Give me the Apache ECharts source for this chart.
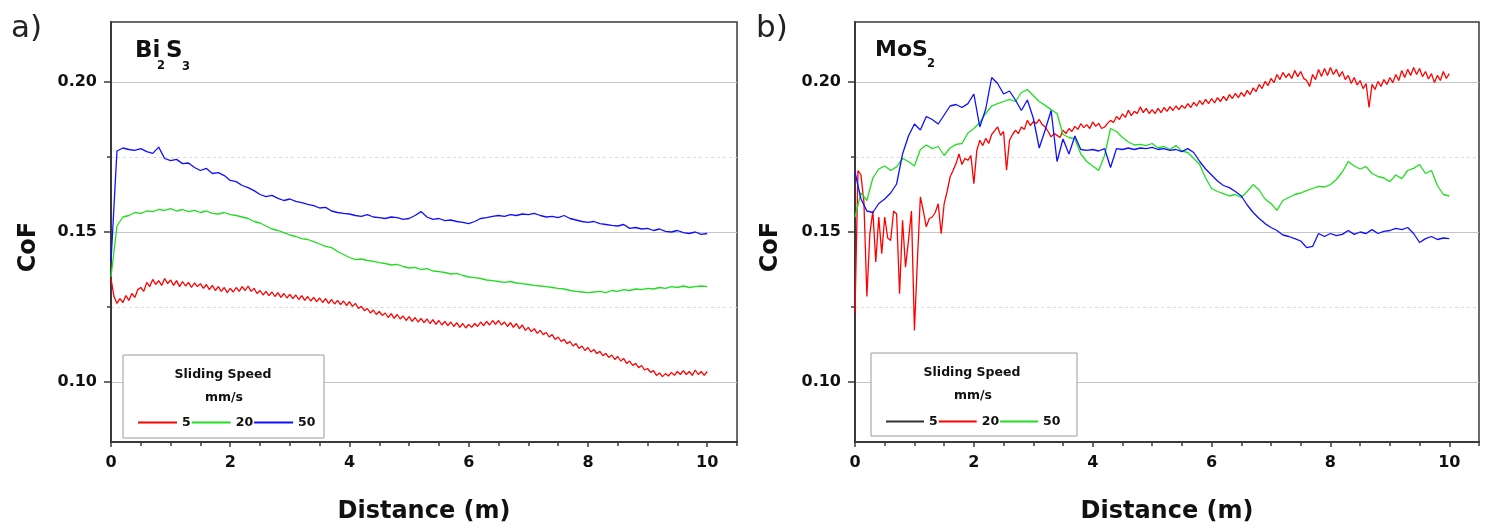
<!DOCTYPE html>
<html><head><meta charset="utf-8">
<script src="https://cdn.jsdelivr.net/npm/echarts@6/dist/echarts.min.js"></script>
<style>html,body{margin:0;padding:0;background:#fff}#c{width:1491px;height:529px}</style>
</head><body><div id="c"></div>
<script>
const F = '"DejaVu Sans", sans-serif';
// distance sampling grids (m)
const dist01 = Array.from({length: 101}, (_, i) => +(i / 10).toFixed(2));
const dist005 = Array.from({length: 201}, (_, i) => +(i / 20).toFixed(2));

const xMajorTicks = [0, 2, 4, 6, 8, 10];
const xMinorTicks = [0.5, 1, 1.5, 2.5, 3, 3.5, 4.5, 5, 5.5, 6.5, 7, 7.5, 8.5, 9, 9.5, 10.5];
const yMajorTicks = [0.10, 0.15, 0.20];
const yMinorTicks = [0.125, 0.175];

// Panel a) Bi2S3 : 5 mm/s (red, step 0.05 m)
const biRed5 = [
0.1345,0.1285,0.1262,0.1278,0.1265,0.1288,0.1272,0.1295,0.1282,0.1308,
0.1315,0.1302,0.1332,0.1318,0.1342,0.1325,0.1338,0.1322,0.1345,0.1328,
0.1340,0.1322,0.1338,0.1318,0.1335,0.1320,0.1332,0.1315,0.1330,0.1318,
0.1328,0.1312,0.1325,0.1308,0.1322,0.1305,0.1318,0.1302,0.1315,0.1298,
0.1312,0.1300,0.1315,0.1302,0.1318,0.1305,0.1320,0.1302,0.1312,0.1295,
0.1305,0.1290,0.1302,0.1288,0.1300,0.1285,0.1298,0.1282,0.1295,0.1280,
0.1292,0.1278,0.1290,0.1275,0.1288,0.1272,0.1285,0.1270,0.1282,0.1268,
0.1280,0.1265,0.1278,0.1262,0.1275,0.1260,0.1272,0.1258,0.1270,0.1255,
0.1268,0.1252,0.1262,0.1245,0.1252,0.1238,0.1245,0.1230,0.1240,0.1225,
0.1235,0.1222,0.1230,0.1215,0.1228,0.1212,0.1225,0.1210,0.1220,0.1205,
0.1218,0.1202,0.1215,0.1200,0.1212,0.1198,0.1210,0.1195,0.1208,0.1192,
0.1205,0.1190,0.1202,0.1188,0.1200,0.1185,0.1198,0.1182,0.1195,0.1180,
0.1192,0.1182,0.1195,0.1185,0.1200,0.1188,0.1202,0.1190,0.1205,0.1192,
0.1205,0.1190,0.1200,0.1185,0.1198,0.1182,0.1195,0.1178,0.1190,0.1172,
0.1182,0.1168,0.1178,0.1162,0.1172,0.1158,0.1165,0.1150,0.1158,0.1142,
0.1150,0.1135,0.1142,0.1128,0.1135,0.1120,0.1128,0.1112,0.1120,0.1105,
0.1115,0.1100,0.1108,0.1095,0.1102,0.1088,0.1095,0.1082,0.1090,0.1075,
0.1085,0.1070,0.1078,0.1062,0.1070,0.1055,0.1062,0.1048,0.1055,0.1040,
0.1045,0.1032,0.1038,0.1022,0.1030,0.1018,0.1028,0.1020,0.1032,0.1022,
0.1035,0.1025,0.1038,0.1025,0.1035,0.1022,0.1040,0.1025,0.1035,0.1022,
0.1035];
// 20 mm/s (green, step 0.1 m)
const biGreen20 = [
0.1350,0.1520,0.1550,0.1555,0.1565,0.1562,0.1570,0.1568,0.1575,0.1572,
0.1578,0.1570,0.1575,0.1568,0.1572,0.1565,0.1570,0.1562,0.1560,0.1565,
0.1558,0.1555,0.1550,0.1545,0.1535,0.1530,0.1520,0.1510,0.1505,0.1498,
0.1490,0.1485,0.1478,0.1475,0.1468,0.1460,0.1452,0.1448,0.1435,0.1425,
0.1415,0.1408,0.1410,0.1405,0.1402,0.1398,0.1395,0.1390,0.1392,0.1385,
0.1380,0.1382,0.1375,0.1378,0.1370,0.1368,0.1365,0.1360,0.1362,0.1355,
0.1350,0.1348,0.1345,0.1340,0.1338,0.1335,0.1332,0.1335,0.1330,0.1328,
0.1325,0.1322,0.1320,0.1318,0.1315,0.1312,0.1310,0.1305,0.1302,0.1300,
0.1298,0.1300,0.1302,0.1298,0.1305,0.1302,0.1308,0.1305,0.1310,0.1308,
0.1312,0.1310,0.1315,0.1312,0.1318,0.1315,0.1320,0.1315,0.1318,0.1320,
0.1318];
// 50 mm/s (blue, step 0.1 m)
const biBlue50 = [
0.1400,0.1770,0.1780,0.1775,0.1772,0.1778,0.1768,0.1762,0.1783,0.1745,
0.1738,0.1742,0.1728,0.1730,0.1715,0.1705,0.1712,0.1695,0.1698,0.1688,
0.1672,0.1668,0.1655,0.1648,0.1638,0.1625,0.1618,0.1622,0.1612,0.1605,
0.1610,0.1602,0.1598,0.1592,0.1588,0.1580,0.1582,0.1570,0.1565,0.1562,
0.1560,0.1555,0.1552,0.1558,0.1550,0.1548,0.1545,0.1550,0.1548,0.1542,
0.1545,0.1555,0.1568,0.1550,0.1542,0.1545,0.1538,0.1540,0.1535,0.1532,
0.1528,0.1535,0.1545,0.1548,0.1552,0.1555,0.1552,0.1558,0.1555,0.1560,
0.1558,0.1562,0.1555,0.1550,0.1552,0.1548,0.1555,0.1545,0.1540,0.1535,
0.1532,0.1535,0.1528,0.1525,0.1522,0.1520,0.1525,0.1512,0.1515,0.1510,
0.1512,0.1505,0.1510,0.1502,0.1500,0.1505,0.1498,0.1495,0.1500,0.1492,
0.1495];

// Panel b) MoS2 : blue (legend "5"), step 0.1 m
const moBlue5 = [
0.1700,0.1610,0.1570,0.1565,0.1595,0.1610,0.1630,0.1660,0.1760,0.1820,
0.1860,0.1840,0.1885,0.1875,0.1860,0.1890,0.1920,0.1925,0.1915,0.1928,
0.1960,0.1850,0.1910,0.2015,0.1995,0.1960,0.1970,0.1940,0.1905,0.1940,
0.1880,0.1780,0.1840,0.1905,0.1735,0.1810,0.1760,0.1820,0.1775,0.1772,
0.1775,0.1770,0.1778,0.1715,0.1778,0.1775,0.1780,0.1775,0.1780,0.1778,
0.1782,0.1775,0.1778,0.1772,0.1775,0.1768,0.1778,0.1765,0.1735,0.1710,
0.1690,0.1670,0.1655,0.1648,0.1635,0.1620,0.1590,0.1565,0.1545,0.1528,
0.1515,0.1505,0.1490,0.1485,0.1478,0.1470,0.1448,0.1452,0.1495,0.1485,
0.1495,0.1488,0.1492,0.1505,0.1492,0.1500,0.1495,0.1508,0.1495,0.1502,
0.1505,0.1512,0.1508,0.1515,0.1495,0.1465,0.1478,0.1485,0.1475,0.1480,
0.1478];
// 20 mm/s (red, step 0.05 m)
const moRed20 = [
0.1230,0.1705,0.1690,0.1600,0.1285,0.1494,0.1570,0.1400,0.1550,0.1428,
0.1550,0.1480,0.1472,0.1570,0.1560,0.1294,0.1539,0.1383,0.1472,0.1570,
0.1172,0.1406,0.1617,0.1570,0.1517,0.1545,0.1550,0.1565,0.1594,0.1494,
0.1594,0.1635,0.1683,0.1705,0.1728,0.1760,0.1725,0.1745,0.1739,0.1755,
0.1661,0.1772,0.1806,0.1788,0.1812,0.1795,0.1825,0.1838,0.1850,0.1822,
0.1835,0.1706,0.1806,0.1825,0.1839,0.1828,0.1850,0.1842,0.1872,0.1855,
0.1868,0.1862,0.1875,0.1858,0.1850,0.1835,0.1817,0.1828,0.1822,0.1815,
0.1839,0.1828,0.1845,0.1835,0.1852,0.1842,0.1861,0.1848,0.1858,0.1845,
0.1867,0.1852,0.1862,0.1845,0.1850,0.1862,0.1872,0.1865,0.1885,0.1875,
0.1894,0.1882,0.1906,0.1888,0.1902,0.1895,0.1917,0.1898,0.1912,0.1895,
0.1908,0.1895,0.1912,0.1898,0.1915,0.1902,0.1918,0.1905,0.1920,0.1908,
0.1922,0.1912,0.1928,0.1915,0.1932,0.1920,0.1938,0.1925,0.1942,0.1928,
0.1945,0.1930,0.1948,0.1935,0.1952,0.1938,0.1958,0.1945,0.1962,0.1948,
0.1965,0.1952,0.1972,0.1958,0.1980,0.1968,0.1992,0.1978,0.2002,0.1988,
0.2012,0.1998,0.2025,0.2008,0.2032,0.2015,0.2028,0.2012,0.2038,0.2018,
0.2035,0.2012,0.2005,0.1985,0.2025,0.2008,0.2042,0.2018,0.2045,0.2022,
0.2048,0.2025,0.2042,0.2018,0.2035,0.2008,0.2022,0.1995,0.2015,0.1990,
0.2005,0.1978,0.1995,0.1915,0.1992,0.1975,0.2002,0.1985,0.2008,0.1992,
0.2015,0.1998,0.2025,0.2005,0.2038,0.2015,0.2042,0.2022,0.2048,0.2025,
0.2045,0.2018,0.2035,0.2010,0.2028,0.1998,0.2022,0.2005,0.2035,0.2012,
0.2028];
// 50 mm/s (green, step 0.1 m)
const moGreen50 = [
0.1550,0.1630,0.1605,0.1680,0.1710,0.1720,0.1705,0.1717,0.1745,0.1735,
0.1720,0.1775,0.1790,0.1778,0.1785,0.1755,0.1780,0.1792,0.1795,0.1830,
0.1845,0.1865,0.1895,0.1920,0.1928,0.1935,0.1942,0.1935,0.1965,0.1975,
0.1955,0.1935,0.1922,0.1908,0.1895,0.1825,0.1815,0.1810,0.1760,0.1735,
0.1720,0.1705,0.1755,0.1845,0.1835,0.1815,0.1800,0.1790,0.1792,0.1788,
0.1795,0.1780,0.1785,0.1775,0.1788,0.1770,0.1765,0.1745,0.1725,0.1680,
0.1645,0.1635,0.1628,0.1620,0.1625,0.1615,0.1635,0.1658,0.1640,0.1610,
0.1595,0.1572,0.1605,0.1615,0.1625,0.1630,0.1638,0.1645,0.1652,0.1650,
0.1658,0.1675,0.1700,0.1735,0.1720,0.1710,0.1718,0.1695,0.1685,0.1680,
0.1668,0.1690,0.1678,0.1705,0.1712,0.1725,0.1695,0.1705,0.1655,0.1625,
0.1620];

const pairs = (xs, ys) => ys.map((v, i) => [xs[i], v]);

const chart = echarts.init(document.getElementById('c'));
const axisCol = '#3a3a3a';
function xAxes(grid) {
  return [
    { gridIndex: grid, type: 'value', min: 0, max: 10.5, position: 'bottom',
      axisLine: { show: true, onZero: false, lineStyle: { color: axisCol, width: 2 } },
      axisTick: { show: true, customValues: xMajorTicks, length: 5, lineStyle: { color: axisCol, width: 1.5 } },
      axisLabel: { customValues: xMajorTicks, fontFamily: F, fontSize: 16, fontWeight: 'bold', color: '#111', margin: 13 },
      splitLine: { show: false },
      name: 'Distance (m)', nameLocation: 'middle', nameGap: 58,
      nameTextStyle: { fontFamily: F, fontSize: 24, fontWeight: 'bold', color: '#111' } },
    { gridIndex: grid, type: 'value', min: 0, max: 10.5, position: 'bottom',
      axisLine: { show: false, onZero: false },
      axisTick: { show: true, customValues: xMinorTicks, length: 4, lineStyle: { color: axisCol, width: 1.5 } },
      axisLabel: { show: false }, splitLine: { show: false } }
  ];
}
function yAxes(grid) {
  return [
    { gridIndex: grid, type: 'value', min: 0.08, max: 0.22, position: 'left',
      axisLine: { show: true, onZero: false, lineStyle: { color: axisCol, width: 2 } },
      axisTick: { show: true, customValues: yMajorTicks, length: 7, lineStyle: { color: axisCol, width: 1.5 } },
      axisLabel: { customValues: yMajorTicks, formatter: v => v.toFixed(2), fontFamily: F, fontSize: 16, fontWeight: 'bold', color: '#111', margin: 14 },
      splitLine: { show: true, lineStyle: { color: '#c4c4c4', width: 1 } } },
    { gridIndex: grid, type: 'value', min: 0.08, max: 0.22, position: 'left',
      axisLine: { show: false, onZero: false },
      axisTick: { show: true, customValues: yMinorTicks, length: 4, lineStyle: { color: axisCol, width: 1.5 } },
      axisLabel: { show: false },
      splitLine: { show: true, lineStyle: { color: '#dcdcdc', width: 1, type: [3, 3] } } }
  ];
}
function line(name, xi, xs, ys, color) {
  return { name, type: 'line', xAxisIndex: xi, yAxisIndex: xi, data: pairs(xs, ys),
    symbol: 'none', color, lineStyle: { color, width: 1.3 }, z: 3 };
}
function boxTexts(x, y, w, h, cx) {
  return [
    { type: 'rect', z: 50, shape: { x, y, width: w, height: h }, style: { fill: '#fff', stroke: '#9a9a9a', lineWidth: 1 } },
    { type: 'text', z: 51, x: cx, y: y + 20, style: { text: 'Sliding Speed', fontFamily: F, fontSize: 12.5, fontWeight: 'bold', fill: '#111', textAlign: 'center', textVerticalAlign: 'middle' } },
    { type: 'text', z: 51, x: cx + 1, y: y + 43, style: { text: 'mm/s', fontFamily: F, fontSize: 12.5, fontWeight: 'bold', fill: '#111', textAlign: 'center', textVerticalAlign: 'middle' } }
  ];
}
const T = (text, x, y, size, extra) => Object.assign({ type: 'text', z: 51, x, y,
  style: { text, fontFamily: F, fontSize: size, fontWeight: 'bold', fill: '#111', textAlign: 'left', textVerticalAlign: 'middle' } }, extra || {});

const legendText = { fontFamily: F, fontSize: 12.5, fontWeight: 'bold', color: '#111' };
const option = {
  animation: false,
  backgroundColor: '#fff',
  grid: [
    { left: 111, top: 22, width: 626, height: 420, show: true, borderColor: axisCol, borderWidth: 1.5, backgroundColor: 'transparent' },
    { left: 855, top: 22, width: 624, height: 420, show: true, borderColor: axisCol, borderWidth: 1.5, backgroundColor: 'transparent' }
  ],
  xAxis: [...xAxes(0), ...xAxes(1)],
  yAxis: [...yAxes(0), ...yAxes(1)],
  legend: [
    { z: 100, left: 133, top: 411, itemWidth: 39, itemHeight: 2, itemGap: 1, icon: 'rect',
      data: ['a5', 'a20', 'a50'], formatter: n => n.slice(1), textStyle: legendText },
    { z: 100, left: 881, top: 410, itemWidth: 38, itemHeight: 2, itemGap: 1, icon: 'rect',
      data: [{ name: 'b5', itemStyle: { color: '#333' } }, 'b20', 'b50'],
      formatter: n => n.slice(1), textStyle: legendText }
  ],
  graphic: [
    ...boxTexts(123, 355, 201, 83, 223),
    ...boxTexts(871, 353, 206, 83, 972),
    { type: 'text', z: 51, x: 11, y: 29, style: { text: 'a)', fontFamily: F, fontSize: 31, fill: '#222', textAlign: 'left', textVerticalAlign: 'middle' } },
    { type: 'text', z: 51, x: 756, y: 29, style: { text: 'b)', fontFamily: F, fontSize: 31, fill: '#222', textAlign: 'left', textVerticalAlign: 'middle' } },
    T('Bi', 135, 51, 23), T('2', 157, 66, 11.5), T('S', 166, 51, 23), T('3', 182, 67, 11.5),
    T('MoS', 875, 50, 22), T('2', 927, 64, 11.5),
    { type: 'text', z: 51, x: 29, y: 247, rotation: Math.PI / 2, style: { text: 'CoF', fontFamily: F, fontSize: 24, fontWeight: 'bold', fill: '#111', textAlign: 'center', textVerticalAlign: 'middle' } },
    { type: 'text', z: 51, x: 771, y: 247, rotation: Math.PI / 2, style: { text: 'CoF', fontFamily: F, fontSize: 24, fontWeight: 'bold', fill: '#111', textAlign: 'center', textVerticalAlign: 'middle' } }
  ],
  series: [
    line('a5', 0, dist005, biRed5, '#ff0000'),
    line('a20', 0, dist01, biGreen20, '#22dd22'),
    line('a50', 0, dist01, biBlue50, '#1010ff'),
    line('b20', 2, dist005, moRed20, '#ff0000'),
    line('b50', 2, dist01, moGreen50, '#22dd22'),
    line('b5', 2, dist01, moBlue5, '#1010ff')
  ]
};
chart.setOption(option);
</script>
</body></html>
